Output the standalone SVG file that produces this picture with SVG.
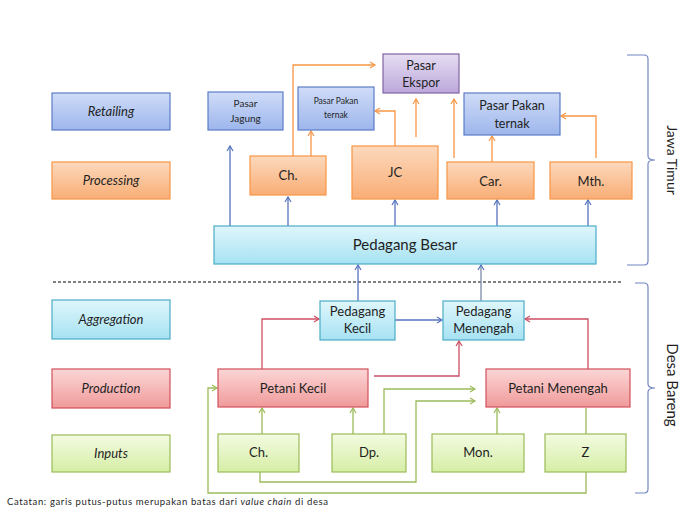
<svg xmlns="http://www.w3.org/2000/svg" width="682" height="511" viewBox="0 0 682 511">
<defs>
<linearGradient id="gBlue" x1="0" y1="0" x2="0" y2="1"><stop offset="0" stop-color="#d0dcf8"/><stop offset="1" stop-color="#9db6ec"/></linearGradient>
<linearGradient id="gOrange" x1="0" y1="0" x2="0" y2="1"><stop offset="0" stop-color="#fcd9bd"/><stop offset="1" stop-color="#f9ad75"/></linearGradient>
<linearGradient id="gPurple" x1="0" y1="0" x2="0" y2="1"><stop offset="0" stop-color="#e6ddf2"/><stop offset="1" stop-color="#bba7da"/></linearGradient>
<linearGradient id="gCyan" x1="0" y1="0" x2="0" y2="1"><stop offset="0" stop-color="#dff6fc"/><stop offset="1" stop-color="#a6e2f2"/></linearGradient>
<linearGradient id="gRed" x1="0" y1="0" x2="0" y2="1"><stop offset="0" stop-color="#fcd6d6"/><stop offset="1" stop-color="#f09a9a"/></linearGradient>
<linearGradient id="gGreen" x1="0" y1="0" x2="0" y2="1"><stop offset="0" stop-color="#f3fbe2"/><stop offset="1" stop-color="#d6eea5"/></linearGradient>
<marker id="aBlue" markerWidth="8" markerHeight="8" refX="6" refY="4" orient="auto" markerUnits="userSpaceOnUse"><path d="M1,1 L6,4 L1,7" fill="none" stroke="#5673bf" stroke-width="1.2"/></marker>
<marker id="aOrange" markerWidth="8" markerHeight="8" refX="6" refY="4" orient="auto" markerUnits="userSpaceOnUse"><path d="M1,1 L6,4 L1,7" fill="none" stroke="#f79646" stroke-width="1.2"/></marker>
<marker id="aRed" markerWidth="8" markerHeight="8" refX="6" refY="4" orient="auto" markerUnits="userSpaceOnUse"><path d="M1,1 L6,4 L1,7" fill="none" stroke="#cc4f64" stroke-width="1.2"/></marker>
<marker id="aGreen" markerWidth="8" markerHeight="8" refX="6" refY="4" orient="auto" markerUnits="userSpaceOnUse"><path d="M1,1 L6,4 L1,7" fill="none" stroke="#9bbb59" stroke-width="1.2"/></marker>
</defs>
<style>
text{font-family:Lato,"Open Sans","Liberation Sans",sans-serif;fill:#1f1f1f;text-anchor:middle}
.lab{font-style:italic;font-size:13px}
.t{font-size:13px}
.blue{fill:url(#gBlue);stroke:#5b7cc6;stroke-width:1.2}
.orange{fill:url(#gOrange);stroke:#f79646;stroke-width:1.2}
.purple{fill:url(#gPurple);stroke:#8064a2;stroke-width:1.2}
.cyan{fill:url(#gCyan);stroke:#4bacc6;stroke-width:1.2}
.red{fill:url(#gRed);stroke:#d0505a;stroke-width:1.2}
.green{fill:url(#gGreen);stroke:#9bbb59;stroke-width:1.2}
.cb{fill:none;stroke:#5673bf;stroke-width:1.3;marker-end:url(#aBlue)}
.co{fill:none;stroke:#f79646;stroke-width:1.3;marker-end:url(#aOrange)}
.cr{fill:none;stroke:#cc4f64;stroke-width:1.3;marker-end:url(#aRed)}
.cg{fill:none;stroke:#9bbb59;stroke-width:1.3;marker-end:url(#aGreen)}
.cgn{fill:none;stroke:#9bbb59;stroke-width:1.3}
.brace{fill:none;stroke:#7386c4;stroke-width:1.2}
</style>
<rect width="682" height="511" fill="#ffffff"/>

<!-- left labels -->
<g id="lbl-retailing"><rect class="blue" x="52" y="93" width="118" height="37"/><text class="lab" x="111" y="116">Retailing</text></g>
<g id="lbl-processing"><rect class="orange" x="52" y="162" width="118" height="37"/><text class="lab" x="111" y="185">Processing</text></g>
<g id="lbl-aggregation"><rect class="cyan" x="52" y="300" width="118" height="39"/><text class="lab" x="111" y="324">Aggregation</text></g>
<g id="lbl-production"><rect class="red" x="52" y="369" width="118" height="39"/><text class="lab" x="111" y="393">Production</text></g>
<g id="lbl-inputs"><rect class="green" x="52" y="435" width="118" height="37"/><text class="lab" x="111" y="458">Inputs</text></g>

<!-- dashed boundary -->
<line x1="53" y1="282" x2="623" y2="282" stroke="#000" stroke-width="1" stroke-dasharray="3,2"/>

<!-- braces -->
<g id="brace-jawa"><path class="brace" d="M627,55 L644,55 Q648,55 648,59 L648,156 Q648,160 655,160 Q648,160 648,164 L648,261 Q648,265 644,265 L627,265"/>
<text x="672" y="160" font-size="14" transform="rotate(90 672 160)" dy="5">Jawa Timur</text></g>
<g id="brace-desa"><path class="brace" d="M635,283 L644,283 Q648,283 648,287 L648,384 Q648,388 655,388 Q648,388 648,392 L648,489 Q648,493 644,493 L635,493"/>
<text x="672" y="385" font-size="15" transform="rotate(90 672 385)" dy="5">Desa Bareng</text></g>

<!-- connectors -->
<g id="connectors">
<path class="cb" d="M230,226 V146"/>
<path class="cb" d="M288,226 V197"/>
<path class="cb" d="M395,226 V200"/>
<path class="cb" d="M497,226 V200"/>
<path class="cb" d="M588,226 V200"/>
<path class="cb" d="M358,301 V265"/>
<path class="cb" d="M481,301 V265" style="stroke:#7b8aa8"/>
<path class="cb" d="M395,320 H442"/>
<path class="co" d="M293,156 V65 H375"/>
<path class="co" d="M311,156 V131"/>
<path class="co" d="M395,146 V111 H375"/>
<path class="co" d="M416,137 V99"/>
<path class="co" d="M454,158 V99"/>
<path class="co" d="M492,162 V136"/>
<path class="co" d="M596,158 V116 H561"/>
<path class="cr" d="M262,369 V319 H319"/>
<path class="cr" d="M374,376 H459 V341"/>
<path class="cr" d="M588,369 V319 H525"/>
<path class="cg" d="M262,434 V408"/>
<path class="cg" d="M353,434 V408"/>
<path class="cg" d="M384,434 V389 H475"/>
<path class="cg" d="M260,472 V482 H416 V401 H475"/>
<path class="cg" d="M586,472 V493 H208 V388 H217"/>
<path class="cgn" d="M586,434 V408"/>
<path class="cg" d="M497,434 V408"/>
</g>

<!-- retailing -->
<g id="pasar-jagung"><rect class="blue" x="208" y="92" width="75" height="38"/><text x="245.5" y="107" font-size="10">Pasar</text><text x="245.5" y="122" font-size="10">Jagung</text></g>
<g id="pasar-pakan-1"><rect class="blue" x="298" y="87" width="76" height="43"/><text x="336" y="104" font-size="8.5">Pasar Pakan</text><text x="336" y="118" font-size="8.5">ternak</text></g>
<g id="pasar-ekspor"><rect class="purple" x="383" y="54" width="76" height="39"/><text x="421" y="70" font-size="12.5">Pasar</text><text x="421" y="87" font-size="12.5">Ekspor</text></g>
<g id="pasar-pakan-2"><rect class="blue" x="464" y="93" width="96" height="42"/><text x="512" y="110" font-size="12.5">Pasar Pakan</text><text x="512" y="128" font-size="12.5">ternak</text></g>

<!-- processing -->
<g id="proc-ch"><rect class="orange" x="250" y="156" width="76" height="39"/><text class="t" x="288" y="180">Ch.</text></g>
<g id="proc-jc"><rect class="orange" x="352" y="146" width="86" height="53"/><text class="t" x="395" y="177">JC</text></g>
<g id="proc-car"><rect class="orange" x="447" y="162" width="87" height="37"/><text class="t" x="490.5" y="186">Car.</text></g>
<g id="proc-mth"><rect class="orange" x="550" y="162" width="82" height="37"/><text class="t" x="591" y="186">Mth.</text></g>

<g id="pedagang-besar"><rect class="cyan" x="214" y="226" width="382" height="38"/><text x="405" y="250" font-size="15">Pedagang Besar</text></g>

<!-- aggregation -->
<g id="pedagang-kecil"><rect class="cyan" x="320" y="301" width="75" height="39"/><text class="t" x="357.5" y="316">Pedagang</text><text class="t" x="357.5" y="333">Kecil</text></g>
<g id="pedagang-menengah"><rect class="cyan" x="443" y="301" width="81" height="39"/><text class="t" x="483.5" y="316">Pedagang</text><text class="t" x="483.5" y="333">Menengah</text></g>

<!-- production -->
<g id="petani-kecil"><rect class="red" x="218" y="369" width="150" height="38"/><text class="t" x="293" y="393">Petani Kecil</text></g>
<g id="petani-menengah"><rect class="red" x="486" y="369" width="144" height="38"/><text class="t" x="558" y="393">Petani Menengah</text></g>

<!-- inputs -->
<g id="in-ch"><rect class="green" x="218" y="434" width="81" height="38"/><text class="t" x="258.5" y="457">Ch.</text></g>
<g id="in-dp"><rect class="green" x="332" y="434" width="74" height="38"/><text class="t" x="369" y="457">Dp.</text></g>
<g id="in-mon"><rect class="green" x="432" y="434" width="92" height="38"/><text class="t" x="478" y="457">Mon.</text></g>
<g id="in-z"><rect class="green" x="545" y="434" width="81" height="38"/><text class="t" x="585.5" y="457">Z</text></g>

<text x="7" y="505" font-size="9.5" textLength="321" lengthAdjust="spacing" style="text-anchor:start">Catatan: garis putus-putus  merupakan batas dari  <tspan font-style="italic">value chain</tspan> di desa</text>
</svg>
